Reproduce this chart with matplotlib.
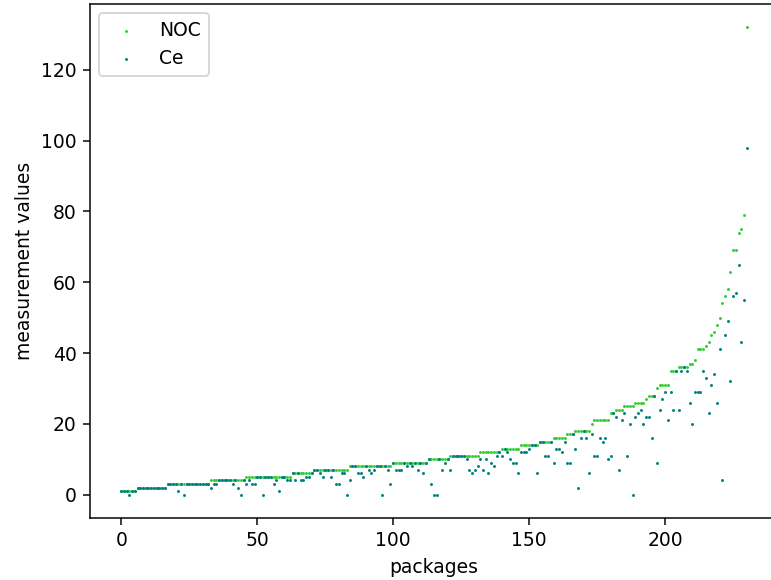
import matplotlib
matplotlib.use("Agg")
import matplotlib.pyplot as plt
import numpy as np

# valores, um por pacote (ordenados por NOC)
noc = [
    1, 1, 1, 1, 1, 1, 2, 2, 2, 2,
    2, 2, 2, 2, 2, 2, 2, 3, 3, 3,
    3, 3, 3, 3, 3, 3, 3, 3, 3, 3,
    3, 3, 3, 4, 4, 4, 4, 4, 4, 4,
    4, 4, 4, 4, 4, 4, 5, 5, 5, 5,
    5, 5, 5, 5, 5, 5, 5, 5, 5, 5,
    5, 5, 5, 6, 6, 6, 6, 6, 6, 6,
    6, 7, 7, 7, 7, 7, 7, 7, 7, 7,
    7, 7, 7, 7, 8, 8, 8, 8, 8, 8,
    8, 8, 8, 8, 8, 8, 8, 8, 8, 8,
    9, 9, 9, 9, 9, 9, 9, 9, 9, 9,
    9, 9, 9, 10, 10, 10, 10, 10, 10, 10,
    10, 11, 11, 11, 11, 11, 11, 11, 11, 11,
    11, 11, 12, 12, 12, 12, 12, 12, 12, 12,
    13, 13, 13, 13, 13, 13, 13, 14, 14, 14,
    14, 14, 14, 14, 15, 15, 15, 15, 15, 16,
    16, 16, 16, 16, 17, 17, 17, 18, 18, 18,
    18, 18, 18, 20, 21, 21, 21, 21, 21, 21,
    23, 23, 24, 24, 24, 25, 25, 25, 25, 26,
    26, 26, 26, 27, 28, 28, 28, 30, 31, 31,
    31, 31, 35, 35, 35, 36, 36, 36, 36, 37,
    37, 38, 41, 41, 41, 42, 43, 45, 46, 48,
    50, 54, 56, 58, 63, 69, 69, 74, 75, 79,
    132,
]

ce = [
    1, 1, 1, 0, 1, 1, 2, 2, 2, 2,
    2, 2, 2, 2, 2, 2, 2, 3, 3, 3,
    3, 1, 3, 0, 3, 3, 3, 3, 3, 3,
    3, 3, 3, 2, 3, 3, 4, 4, 4, 4,
    4, 3, 4, 2, 0, 4, 3, 4, 3, 3,
    5, 5, 0, 5, 5, 5, 3, 4, 1, 5,
    5, 4, 4, 6, 4, 6, 4, 4, 5, 5,
    6, 7, 7, 6, 5, 7, 7, 5, 7, 3,
    3, 6, 6, 0, 4, 8, 8, 6, 6, 5,
    8, 7, 6, 7, 8, 8, 0, 8, 7, 3,
    9, 7, 7, 7, 9, 8, 9, 8, 9, 7,
    9, 6, 9, 10, 3, 0, 0, 10, 7, 9,
    10, 7, 11, 11, 11, 11, 11, 10, 7, 6,
    7, 8, 10, 7, 10, 6, 9, 8, 11, 12,
    11, 13, 12, 10, 9, 9, 6, 12, 12, 12,
    13, 14, 14, 6, 15, 15, 11, 11, 15, 9,
    13, 13, 12, 15, 9, 9, 17, 13, 2, 16,
    18, 16, 6, 17, 11, 11, 16, 15, 16, 10,
    11, 23, 22, 7, 21, 23, 11, 20, 0, 22,
    23, 24, 20, 22, 22, 16, 28, 9, 24, 27,
    29, 21, 29, 24, 35, 24, 35, 36, 35, 26,
    20, 29, 29, 29, 35, 33, 23, 31, 34, 26,
    41, 4, 45, 49, 32, 56, 57, 65, 43, 55,
    98,
]

packages = np.arange(len(noc))

DPI = 135
fig = plt.figure(figsize=(771 / DPI, 580 / DPI), dpi=DPI)
ax = fig.add_axes([90 / 771, 62 / 580, 688 / 771, 514 / 580])

ax.scatter(packages, noc, s=2.5, linewidths=0, color="limegreen", label="NOC")
ax.scatter(packages, ce, s=2.5, linewidths=0, color="teal", label="Ce")

ax.set_xlabel("packages")
ax.set_ylabel("measurement values")
ax.legend(loc="upper left")

fig.savefig("out.png", dpi=DPI)
plt.close(fig)
